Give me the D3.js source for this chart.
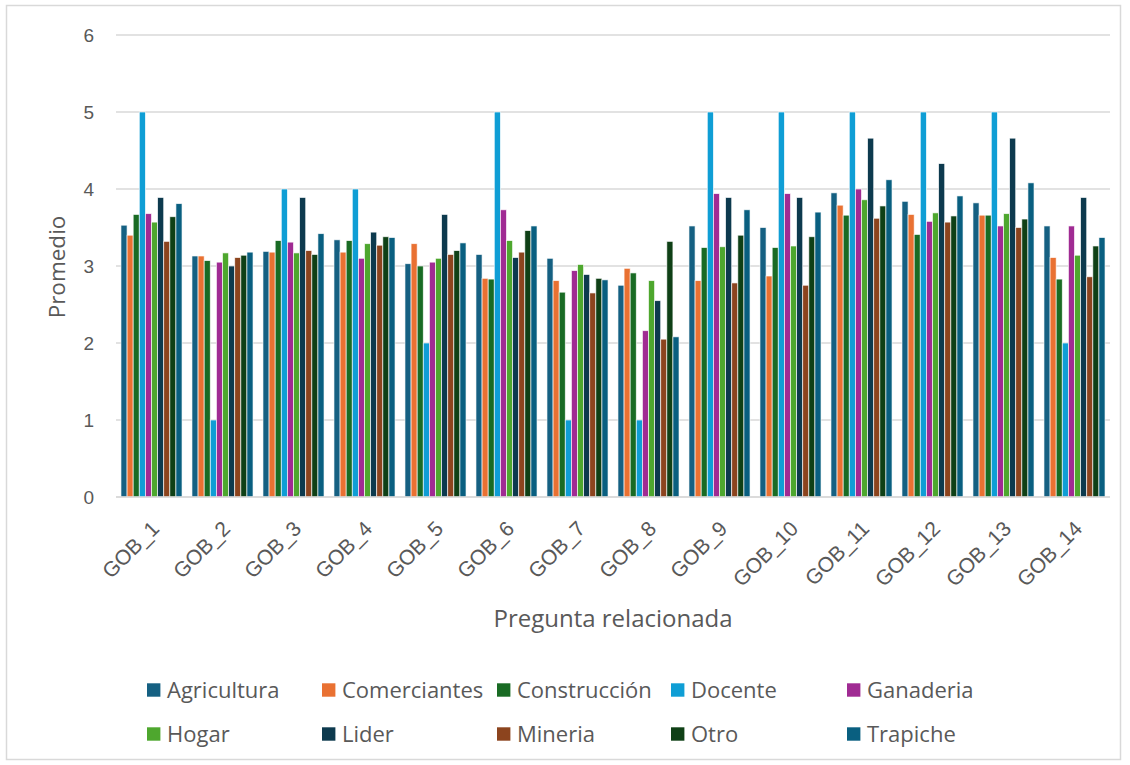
<!DOCTYPE html>
<html>
<head>
<meta charset="utf-8">
<script src="https://cdn.jsdelivr.net/npm/d3@7"></script>
<style>
  html, body { margin: 0; padding: 0; background: #ffffff; }
  svg { display: block; }
</style>
</head>
<body>
<svg id="chart" width="1130" height="765"></svg>
<script>
// Preguntas (categorías del eje X)
const categories = ["GOB_1","GOB_2","GOB_3","GOB_4","GOB_5","GOB_6","GOB_7","GOB_8","GOB_9","GOB_10","GOB_11","GOB_12","GOB_13","GOB_14"];

// Grupos ocupacionales (series)
const seriesNames = ["Agricultura","Comerciantes","Construcción","Docente","Ganaderia","Hogar","Lider","Mineria","Otro","Trapiche"];

// Promedio por grupo, una lista por pregunta GOB_1 … GOB_14
const agricultura  = [3.53,3.13,3.19,3.34,3.03,3.15,3.10,2.75,3.52,3.50,3.95,3.84,3.82,3.52];
const comerciantes = [3.40,3.13,3.18,3.18,3.29,2.84,2.81,2.97,2.81,2.87,3.79,3.67,3.66,3.11];
const construccion = [3.67,3.07,3.33,3.33,3.00,2.83,2.66,2.91,3.24,3.24,3.66,3.41,3.66,2.83];
const docente      = [5.00,1.00,4.00,4.00,2.00,5.00,1.00,1.00,5.00,5.00,5.00,5.00,5.00,2.00];
const ganaderia    = [3.68,3.05,3.31,3.10,3.05,3.73,2.94,2.16,3.94,3.94,4.00,3.58,3.52,3.52];
const hogar        = [3.57,3.17,3.17,3.29,3.10,3.33,3.02,2.81,3.25,3.26,3.86,3.69,3.68,3.14];
const lider        = [3.89,3.00,3.89,3.44,3.67,3.11,2.89,2.55,3.89,3.89,4.66,4.33,4.66,3.89];
const mineria      = [3.32,3.11,3.20,3.27,3.15,3.18,2.65,2.05,2.78,2.75,3.62,3.57,3.50,2.86];
const otro         = [3.64,3.14,3.15,3.38,3.20,3.46,2.84,3.32,3.40,3.38,3.78,3.65,3.61,3.26];
const trapiche     = [3.81,3.18,3.42,3.37,3.30,3.52,2.82,2.08,3.73,3.70,4.12,3.91,4.08,3.37];

const seriesValues = [agricultura, comerciantes, construccion, docente, ganaderia, hogar, lider, mineria, otro, trapiche];

// Marcas del eje Y
const yTicks = [0,1,2,3,4,5,6];

const colors = ["#156082","#E97132","#196B24","#0F9ED5","#A02B93","#4EA72E","#0D3A4E","#8C441E","#0F4016","#095F80"];

const svg = d3.select("#chart");
const plot = { left: 116, right: 1110, top: 35, bottom: 497 };
const textColor = "#595959";
const gridColor = "#D9D9D9";
const labelFont = "'Liberation Sans', Arial, sans-serif";
const titleFont = "'Open Sans', sans-serif";

// Marco exterior
svg.append("rect")
  .attr("x", 6.5).attr("y", 5.5)
  .attr("width", 1114).attr("height", 754)
  .attr("fill", "#ffffff")
  .attr("stroke", gridColor).attr("stroke-width", 1.5);

const x = d3.scaleBand()
  .domain(categories)
  .range([plot.left, plot.right])
  .paddingInner(0.14)
  .paddingOuter(0.07);

const xs = d3.scaleBand()
  .domain(seriesNames)
  .range([0, x.bandwidth()]);

const y = d3.scaleLinear()
  .domain([0, 6])
  .range([plot.bottom, plot.top]);

const color = d3.scaleOrdinal().domain(seriesNames).range(colors);

// Líneas de cuadrícula horizontales
svg.append("g")
  .selectAll("line")
  .data(yTicks)
  .join("line")
  .attr("x1", plot.left).attr("x2", plot.right)
  .attr("y1", d => y(d)).attr("y2", d => y(d))
  .attr("stroke", gridColor).attr("stroke-width", 1.5);

// Eje Y
const yAxis = svg.append("g")
  .attr("transform", `translate(${plot.left},0)`)
  .call(d3.axisLeft(y).tickValues(yTicks).tickSize(0).tickPadding(22).tickFormat(d3.format("d")));
yAxis.select(".domain").remove();
yAxis.selectAll("text")
  .attr("fill", textColor)
  .style("font-family", labelFont)
  .style("font-size", "19px");

// Barras
const rows = categories.map((c, i) => ({ cat: c, vals: seriesNames.map((s, j) => ({ s, v: seriesValues[j][i] })) }));

svg.append("g")
  .selectAll("g")
  .data(rows)
  .join("g")
  .attr("transform", d => `translate(${x(d.cat)},0)`)
  .selectAll("rect")
  .data(d => d.vals)
  .join("rect")
  .attr("x", d => xs(d.s))
  .attr("width", xs.bandwidth())
  .attr("y", d => y(d.v))
  .attr("height", d => y(0) - y(d.v))
  .attr("fill", d => color(d.s))
  .attr("stroke", "#ffffff")
  .attr("stroke-opacity", 0.8)
  .attr("stroke-width", 0.8);

// Eje X: línea base
svg.append("line")
  .attr("x1", plot.left).attr("x2", plot.right)
  .attr("y1", y(0)).attr("y2", y(0))
  .attr("stroke", gridColor).attr("stroke-width", 1.5);

// Etiquetas de categoría giradas 45°
svg.append("g")
  .selectAll("text")
  .data(categories)
  .join("text")
  .attr("transform", d => `translate(${x(d) + x.bandwidth() / 2 + 9},${plot.bottom + 33}) rotate(-45)`)
  .attr("text-anchor", "end")
  .attr("fill", textColor)
  .style("font-family", labelFont)
  .style("font-size", "21px")
  .text(d => d);

// Títulos de ejes
svg.append("text")
  .attr("x", 613).attr("y", 627)
  .attr("text-anchor", "middle")
  .attr("fill", textColor)
  .style("font-family", titleFont)
  .style("font-size", "24px")
  .text("Pregunta relacionada");

svg.append("text")
  .attr("transform", "translate(65,267) rotate(-90)")
  .attr("text-anchor", "middle")
  .attr("fill", textColor)
  .style("font-family", titleFont)
  .style("font-size", "22.5px")
  .text("Promedio");

// Leyenda (dos filas de cinco)
const legendCols = [147, 322, 497, 671, 847];
const legendRows = [690, 734];
const legend = svg.append("g")
  .selectAll("g")
  .data(seriesNames)
  .join("g")
  .attr("transform", (d, i) => `translate(${legendCols[i % 5]},${legendRows[Math.floor(i / 5)]})`);
legend.append("rect")
  .attr("x", 0).attr("y", -6.7)
  .attr("width", 13.4).attr("height", 13.4)
  .attr("fill", d => color(d));
legend.append("text")
  .attr("x", 20).attr("y", 0)
  .attr("dy", "0.36em")
  .attr("fill", textColor)
  .style("font-family", titleFont)
  .style("font-size", "22px")
  .text(d => d);
</script>
</body>
</html>
